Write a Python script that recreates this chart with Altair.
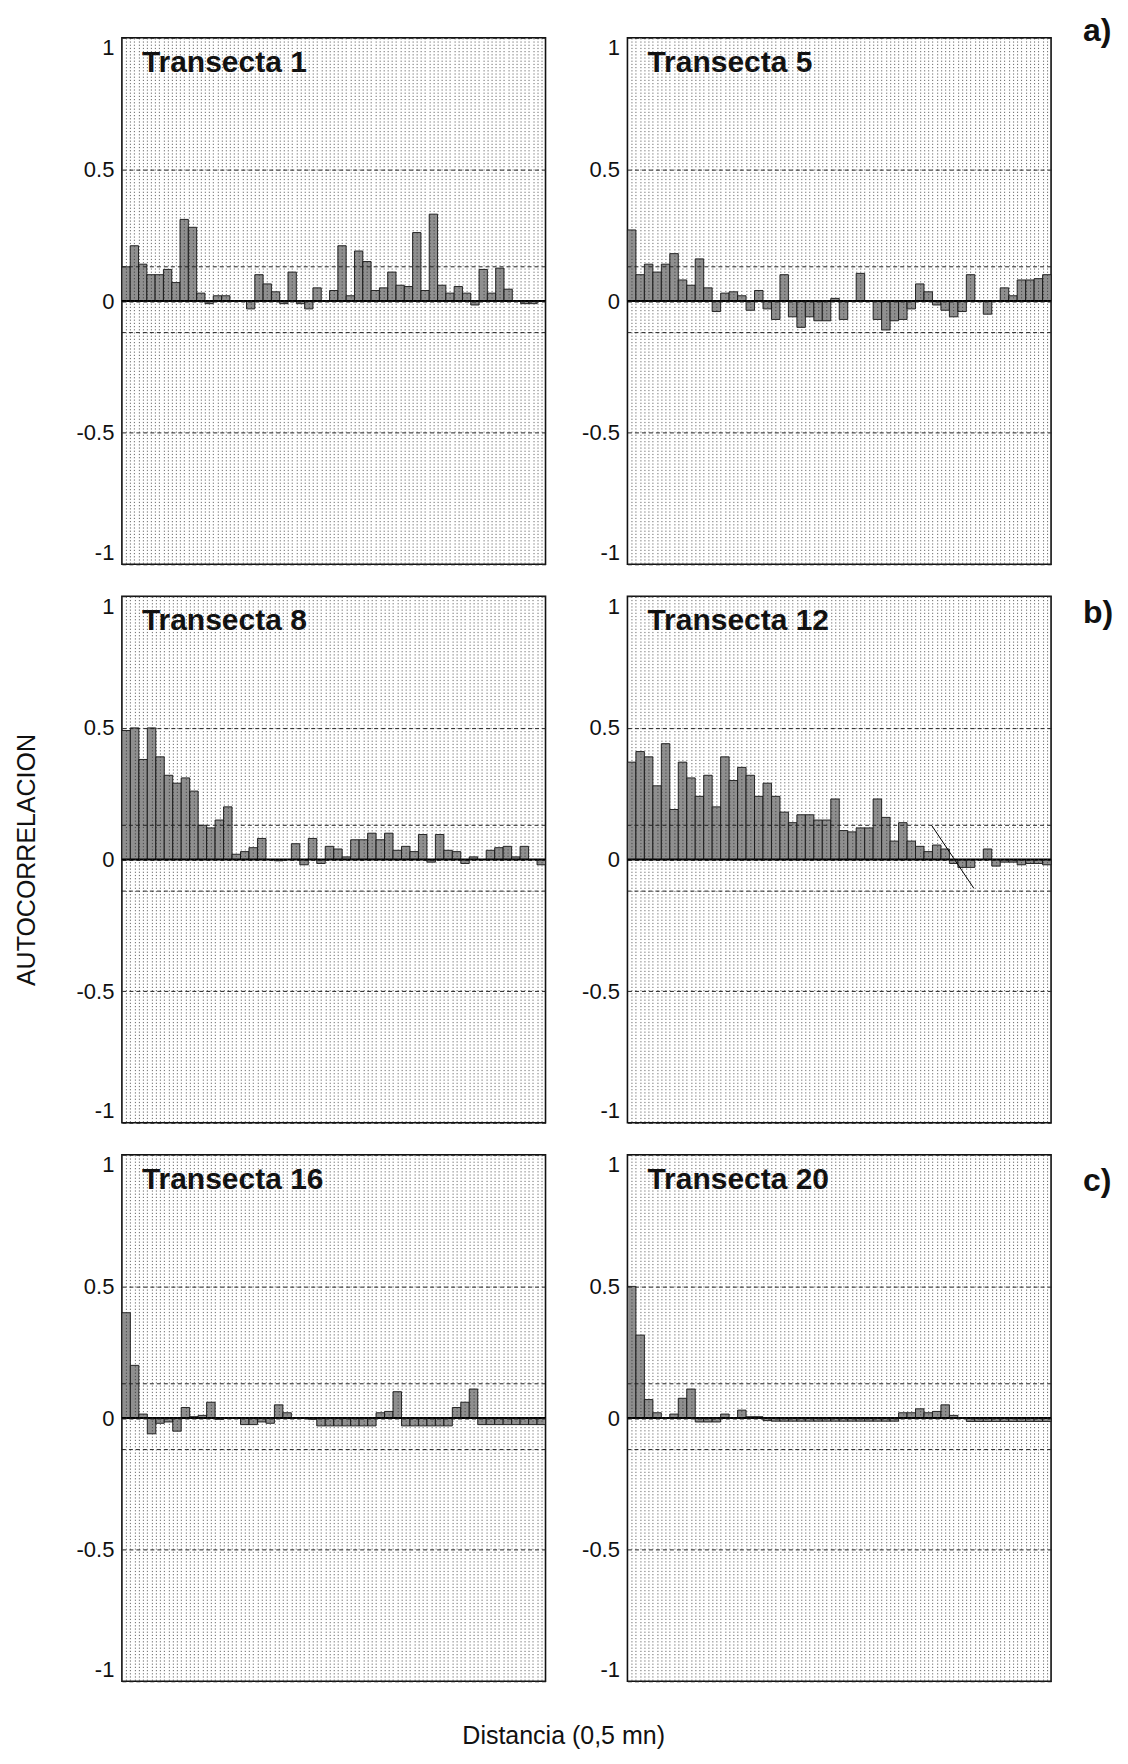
import altair as alt
import pandas as pd

# ---- data (autocorrelation by lag) ----
t1 = [0.13, 0.21, 0.14, 0.10, 0.10, 0.12, 0.07, 0.31, 0.28, 0.03, -0.01, 0.02, 0.02, 0.0, 0.0,
      -0.03, 0.10, 0.065, 0.035, -0.01, 0.11, -0.01, -0.03, 0.05, 0.0, 0.04, 0.21, 0.02, 0.19, 0.15,
      0.04, 0.05, 0.11, 0.06, 0.055, 0.26, 0.04, 0.33, 0.06, 0.03, 0.055, 0.03, -0.015, 0.12, 0.03,
      0.125, 0.045, 0.0, -0.01, -0.01, 0.0]
t5 = [0.27, 0.10, 0.14, 0.11, 0.14, 0.18, 0.08, 0.06, 0.16, 0.05, -0.04, 0.03, 0.035, 0.02, -0.035,
      0.04, -0.03, -0.07, 0.10, -0.06, -0.10, -0.06, -0.075, -0.075, 0.01, -0.07, 0.0, 0.105, 0.0,
      -0.07, -0.11, -0.075, -0.07, -0.03, 0.065, 0.035, -0.015, -0.035, -0.06, -0.04, 0.10, 0.0,
      -0.05, 0.0, 0.05, 0.02, 0.08, 0.08, 0.085, 0.10]
t8 = [0.49, 0.50, 0.38, 0.50, 0.39, 0.32, 0.29, 0.31, 0.26, 0.13, 0.12, 0.15, 0.20, 0.02, 0.03,
      0.045, 0.08, 0.0, -0.005, 0.0, 0.06, -0.02, 0.08, -0.015, 0.05, 0.04, 0.01, 0.075, 0.075, 0.10,
      0.075, 0.10, 0.035, 0.05, 0.03, 0.095, -0.01, 0.095, 0.035, 0.03, -0.015, 0.01, 0.0, 0.035,
      0.045, 0.05, 0.01, 0.05, 0.0, -0.02]
t12 = [0.37, 0.41, 0.39, 0.28, 0.44, 0.19, 0.37, 0.31, 0.24, 0.32, 0.20, 0.39, 0.30, 0.35, 0.32,
       0.24, 0.29, 0.24, 0.18, 0.14, 0.17, 0.17, 0.15, 0.15, 0.23, 0.11, 0.105, 0.12, 0.12, 0.23,
       0.16, 0.07, 0.14, 0.07, 0.05, 0.03, 0.055, 0.04, -0.015, -0.03, -0.03, 0.0, 0.04, -0.025,
       -0.01, -0.01, -0.02, -0.015, -0.015, -0.02]
t16 = [0.40, 0.20, 0.015, -0.06, -0.02, -0.015, -0.05, 0.04, 0.005, 0.01, 0.06, -0.005, 0.0, 0.0,
       -0.025, -0.025, -0.015, -0.02, 0.05, 0.02, 0.0, 0.0, -0.005, -0.03, -0.03, -0.03, -0.03,
       -0.03, -0.03, -0.03, 0.02, 0.025, 0.10, -0.03, -0.03, -0.03, -0.03, -0.03, -0.03, 0.04, 0.06,
       0.11, -0.025, -0.025, -0.025, -0.025, -0.025, -0.025, -0.025, -0.025]
t20 = [0.50, 0.315, 0.07, 0.02, 0.0, 0.015, 0.075, 0.11, -0.015, -0.015, -0.015, 0.015, 0.0, 0.03,
       0.005, 0.005, -0.01, -0.012, -0.012, -0.012, -0.012, -0.012, -0.012, -0.012, -0.012, -0.012,
       -0.012, -0.012, -0.012, -0.012, -0.012, -0.012, 0.02, 0.02, 0.035, 0.02, 0.025, 0.05, 0.01,
       0.0, -0.013, -0.013, -0.013, -0.013, -0.013, -0.013, -0.013, -0.013, -0.013, -0.013]

titles = ["Transecta 1", "Transecta 5", "Transecta 8", "Transecta 12", "Transecta 16", "Transecta 20"]
series = [t1, t5, t8, t12, t16, t20]
letters = ["a)", "b)", "c)"]
conf_limits = [0.13, -0.12]
y_ticks = [-1, -0.5, 0, 0.5, 1]
y_title = "AUTOCORRELACION"
x_title = "Distancia (0,5 mn)"
# stray trend stroke visible in Transecta 12
trend_lag = [36.4, 41.4]
trend_r = [0.13, -0.11]

W, H = 424, 527
FONT = "Liberation Sans, Arial, sans-serif"


def panel(title, vals, ytitle=False, ytitle_show=False,
          letter=None, letter_y=0, letter_ghost=False, trend=False):
    n = len(vals)
    lags = list(range(1, n + 1))
    df = pd.DataFrame({"lag": lags, "r": vals})
    xgrid = lags + [l + 0.5 for l in lags[:-1]]
    xscale = alt.Scale(domain=[0.5, n + 0.5], nice=False, zero=False)
    yscale = alt.Scale(domain=[-1, 1], nice=False)

    xaxis = dict(values=xgrid, labels=False, ticks=False, domain=False, grid=True,
                 gridColor="#2a2a2a", gridDash=[1.2, 2.0], gridOpacity=0.7, gridWidth=1,
                 zindex=1, title="")
    yaxis = dict(values=y_ticks, labelExpr="toString(datum.value)", ticks=False, domain=False,
                 grid=True, gridColor="#222", gridDash=[4, 3], gridWidth=1, zindex=1,
                 labelFontSize=22, labelFont=FONT, labelColor="#111", labelPadding=8,
                 labelFlush=True, title="")
    if ytitle:
        yaxis.update(title=y_title, titleFontSize=25, titleFontWeight="normal", titleFont=FONT,
                     titleColor="#111", titlePadding=37,
                     titleOpacity=1 if ytitle_show else 0)

    bars = alt.Chart(df).transform_calculate(
        x0="datum.lag - 0.5", x1="datum.lag + 0.5"
    ).mark_rect(fill="#8f8f8f", stroke="#151515", strokeWidth=0.9).encode(
        x=alt.X("x0:Q", scale=xscale, axis=alt.Axis(**xaxis)),
        x2="x1:Q",
        y=alt.Y("r:Q", scale=yscale, axis=alt.Axis(**yaxis)),
        y2=alt.datum(0),
    )
    conf = alt.Chart(pd.DataFrame({"r": conf_limits})).mark_rule(
        color="#222", strokeDash=[4, 3], strokeWidth=1
    ).encode(y=alt.Y("r:Q", scale=yscale, axis=alt.Axis(**yaxis)))
    zero = alt.Chart(pd.DataFrame({"r": [0]})).mark_rule(color="#000", strokeWidth=1.8).encode(
        y=alt.Y("r:Q", scale=yscale, axis=alt.Axis(**yaxis)))
    ttl = alt.Chart(pd.DataFrame({"t": [title]})).mark_text(
        align="left", baseline="alphabetic", fontSize=30, fontWeight="bold", font=FONT,
        color="#111"
    ).encode(x=alt.value(20), y=alt.value(34), text="t:N")
    layers = [bars, conf, zero, ttl]
    if trend:
        tr = alt.Chart(pd.DataFrame({"x0": trend_lag, "r": trend_r})).mark_line(
            color="#000", strokeWidth=1
        ).encode(x=alt.X("x0:Q", scale=xscale, axis=alt.Axis(**xaxis)),
                 y=alt.Y("r:Q", scale=yscale, axis=alt.Axis(**yaxis)))
        layers.append(tr)
    if letter:
        lt = alt.Chart(pd.DataFrame({"l": [letter]})).mark_text(
            align="left", baseline="middle", fontSize=32, fontWeight="bold", font=FONT,
            color="#111", opacity=0 if letter_ghost else 1
        ).encode(x=alt.value(W - 60 if letter_ghost else W + 32), y=alt.value(letter_y),
                 text="l:N")
        layers.append(lt)
    return alt.layer(*layers).properties(width=W, height=H)


p1 = panel(titles[0], series[0], ytitle=True, letter=letters[0], letter_y=-7, letter_ghost=True)
p5 = panel(titles[1], series[1], letter=letters[0], letter_y=-7)
p8 = panel(titles[2], series[2], ytitle=True, ytitle_show=True)
p12 = panel(titles[3], series[3], letter=letters[1], letter_y=17, trend=True)
p16 = panel(titles[4], series[4], ytitle=True)
p20 = panel(titles[5], series[5], letter=letters[2], letter_y=26)

chart = alt.concat(
    p1, p5, p8, p12, p16, p20, columns=2, spacing={"row": 29, "column": 33}, align="each",
    title=alt.TitleParams(x_title, orient="bottom", anchor="middle", fontSize=25,
                          fontWeight="normal", font=FONT, color="#111", offset=42),
).configure_view(stroke="#111", strokeWidth=1.6)

chart.save("out.html", embed_options={"renderer": "svg", "actions": False})
